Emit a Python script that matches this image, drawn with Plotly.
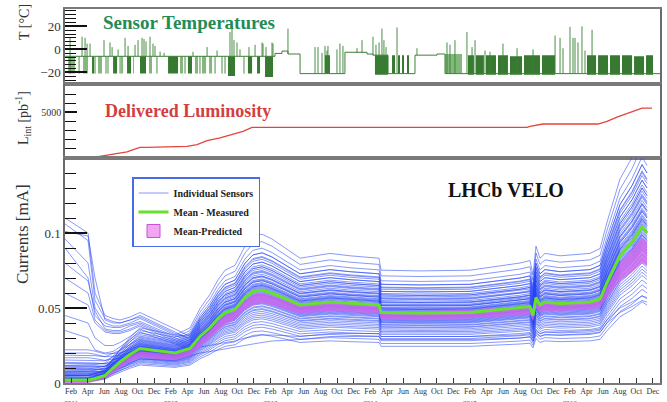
import plotly.graph_objects as go
from plotly.subplots import make_subplots

FONT = "Liberation Serif"

# ---------------- x-axis labels (decimal years) ----------------
years = [2011, 2012, 2013, 2014, 2015, 2016]
month_names = ["Feb", "Apr", "Jun", "Aug", "Oct", "Dec"]
month_numbers = [2, 4, 6, 8, 10, 12]
x_range = [2011.023, 2016.987]

# ---------------- Sensor temperatures ----------------
temp_base_x = [2011.023, 2013.128, 2013.198, 2013.258, 2013.379, 2013.829, 2014.050, 2014.110,
               2014.261, 2014.531, 2014.752, 2014.832, 2016.987]
temp_base_y = [-6, -3.5, -1.5, -4, -21, -2.5, -4, -5, -21, -5, -4, -21, -21]

# dense blocks of switching (start, end, low, high, shade)
block_x0 = [2011.054, 2011.204, 2011.294, 2011.354, 2011.505, 2011.585, 2011.645, 2011.705, 2011.775,
            2011.865, 2012.056, 2012.176, 2012.256, 2012.326, 2012.396, 2012.467, 2012.657, 2012.857,
            2012.948, 2013.028, 2013.629, 2014.130, 2014.301, 2014.361, 2014.401, 2014.451, 2014.832,
            2015.062, 2015.142, 2015.243, 2015.363, 2015.483, 2015.624, 2015.804,
            2016.255, 2016.366, 2016.486, 2016.606, 2016.727, 2016.847]
block_x1 = [2011.124, 2011.254, 2011.314, 2011.394, 2011.545, 2011.605, 2011.685, 2011.715, 2011.835,
            2011.895, 2012.156, 2012.206, 2012.296, 2012.356, 2012.437, 2012.497, 2012.727, 2012.898,
            2012.978, 2013.108, 2013.679, 2014.261, 2014.331, 2014.381, 2014.421, 2014.471, 2015.002,
            2015.122, 2015.222, 2015.343, 2015.463, 2015.604, 2015.784, 2015.935,
            2016.346, 2016.466, 2016.586, 2016.707, 2016.827, 2016.917]
block_lo = [-21, -21, -21, -21, -21, -21, -21, -21, -21, -21, -21, -21, -21, -21, -21, -21, -23, -21,
            -21, -24, -21, -22, -21, -21, -21, -21, -21,
            -22, -22, -22, -22, -22, -22, -22, -22, -22, -22, -22, -22, -22]
block_hi = [-6, -6, -6, -6, -6, -6, -6, -6, -6, -6, -6, -6, -6, -6, -6, -6, -6, -6,
            -6, -6, -5, -5, -5, -5, -5, -5, -4,
            -5, -5, -5, -5, -6, -5, -5, -5, -5, -5, -5, -6, -5]
block_light = [1, 1, 0, 1, 0, 1, 0, 1, 0, 1, 0, 1, 0, 1, 1, 1, 0, 0, 0, 0, 0, 0, 0, 0, 0, 0, 1,
               0, 0, 0, 0, 0, 0, 0, 0, 0, 0, 0, 0, 0]

# thin excursions (time, from, to)
spike_x = [2011.074, 2011.194, 2011.224, 2011.244, 2011.274, 2011.414, 2011.474, 2011.495, 2011.555,
           2011.625, 2011.655, 2011.725, 2011.755, 2011.795, 2011.815, 2011.835, 2011.875, 2011.905,
           2011.925, 2011.976, 2012.016, 2012.306, 2012.447, 2012.547, 2012.677, 2012.697, 2012.717,
           2012.747, 2012.777, 2012.867, 2012.928, 2012.998, 2013.008, 2013.038, 2013.098, 2013.108,
           2013.258,
           2011.164, 2011.324, 2011.434, 2011.454, 2011.575, 2011.945, 2012.226, 2012.376, 2012.527,
           2012.597, 2012.627, 2012.817,
           2013.529, 2013.559, 2013.599, 2013.629, 2013.649, 2013.659, 2013.749, 2013.779, 2013.809,
           2013.950, 2014.000,
           2014.110, 2014.140, 2014.171, 2014.200, 2014.220, 2014.241, 2014.351, 2014.551, 2014.852,
           2014.882, 2014.932, 2015.052, 2015.103, 2015.133, 2015.233, 2015.283, 2015.413, 2015.554,
           2015.714, 2015.935, 2015.985, 2016.015, 2016.085, 2016.115, 2016.135, 2016.165, 2016.205,
           2016.235, 2016.306]
spike_lo = [-21, -6, -6, -6, -6, -6, -6, -6, -6,
            -6, -6, -6, -6, -6, -6, -6, -6, -6,
            -6, -6, -6, -6, -6, -6, -6, -6, -6,
            -6, -6, -6, -6, -6, -6, -6, -6, -6,
            -4,
            -21, -21, -21, -21, -21, -21, -21, -21, -21,
            -21, -21, -21,
            -21, -21, -21, -21, -21, -21, -21, -21, -21,
            -3, -3,
            -5, -21, -21, -21, -21, -21, -21, -5, -21,
            -21, -21, -21, -21, -21, -21, -21, -21, -21,
            -21, -21, -21, -21, -21, -21, -21, -21, -21,
            -21, -21]
spike_hi = [10, 11, 10, 5, 5, 8, 6, 2, 0,
            10, 3, 4, 8, 10, 9, 7, 11, 5,
            3, -2, -3, -2, 2, -1, 15, 20, 8,
            6, 0, 2, 4, 6, 5, 2, 6, 5,
            18,
            -6, -6, -6, -6, -6, -6, -6, -6, -6,
            -6, -6, -6,
            2, 2, -3, 3, -1, 3, 0, 5, 3,
            1, 8,
            11, 4, 6, 18, 8, 2, 19, 1, 6,
            4, 8, 15, 2, 8, -1, -2, 5, 1,
            0, 12, 10, 1, 19.5, 10, 10, 6, 20,
            -1, 17]

# ---------------- Delivered luminosity ----------------
lumi_x = [2011.023, 2011.324, 2011.400, 2011.474, 2011.550, 2011.645, 2011.700, 2011.775, 2011.845,
          2012.246, 2012.346, 2012.447, 2012.577, 2012.707, 2012.807, 2012.898, 2015.654, 2015.684,
          2015.814, 2016.365, 2016.456, 2016.556, 2016.686, 2016.807, 2016.907]
lumi_y = [0, 90, 230, 380, 480, 670, 880, 1170, 1170,
          1280, 1470, 1900, 2190, 2630, 2920, 3350, 3350, 3460,
          3720, 3720, 4000, 4480, 5020, 5450, 5450]

# ---------------- Leakage currents ----------------
key_x = [2011.023, 2011.254, 2011.324, 2011.424, 2011.504, 2011.574, 2011.675, 2011.775, 2012.126,
         2012.276, 2012.376, 2012.477, 2012.557, 2012.627, 2012.727, 2012.827, 2012.907, 2012.998,
         2013.098, 2013.379, 2013.679, 2013.880, 2014.171, 2014.191, 2014.581, 2015.083, 2015.584,
         2015.684, 2015.714, 2015.744, 2015.784, 2015.834, 2015.985, 2016.285, 2016.386, 2016.456,
         2016.586, 2016.707, 2016.807, 2016.857]
mean_measured = [0.002, 0.002, 0.003, 0.005, 0.010, 0.014, 0.019, 0.023, 0.020,
                 0.023, 0.031, 0.037, 0.043, 0.047, 0.049, 0.057, 0.061, 0.062,
                 0.060, 0.052, 0.054, 0.053, 0.052, 0.047, 0.0467, 0.047, 0.050,
                 0.051, 0.045, 0.057, 0.052, 0.054, 0.053, 0.054, 0.056, 0.067,
                 0.085, 0.094, 0.104, 0.100]
pred_lo = [0.000, 0.000, 0.001, 0.003, 0.006, 0.010, 0.014, 0.017, 0.015,
           0.018, 0.024, 0.030, 0.035, 0.039, 0.042, 0.049, 0.052, 0.053,
           0.052, 0.046, 0.048, 0.047, 0.046, 0.042, 0.042, 0.043, 0.045,
           0.046, 0.041, 0.050, 0.047, 0.048, 0.048, 0.049, 0.050, 0.057,
           0.068, 0.074, 0.080, 0.078]
pred_hi = [0.002, 0.002, 0.003, 0.005, 0.009, 0.013, 0.018, 0.021, 0.019,
           0.022, 0.029, 0.035, 0.041, 0.045, 0.048, 0.055, 0.059, 0.060,
           0.058, 0.052, 0.054, 0.053, 0.052, 0.048, 0.048, 0.049, 0.051,
           0.052, 0.047, 0.056, 0.053, 0.054, 0.054, 0.055, 0.056, 0.064,
           0.080, 0.089, 0.097, 0.094]
early_weight = [1.0, 1.0, 0.9, 0.7, 0.45, 0.25, 0.1] + [0.0] * 33

sensor_factor = [0.52, 0.56, 0.60, 0.63, 0.66, 0.69, 0.71, 0.73,
                 0.75, 0.77, 0.79, 0.80, 0.82, 0.83, 0.85, 0.86,
                 0.87, 0.88, 0.89, 0.90, 0.91, 0.92, 0.93, 0.94,
                 0.95, 0.96, 0.97, 0.98, 0.99, 1.00, 1.01, 1.02,
                 1.03, 1.04, 1.05, 1.06, 1.07, 1.08, 1.10, 1.11,
                 1.12, 1.14, 1.15, 1.17, 1.19, 1.21, 1.23, 1.25,
                 1.27, 1.30, 1.33, 1.36, 1.40, 1.45, 1.52, 1.60]
sensor_early = [0, 0.002, 0, 0.004, 0, 0.006, 0, 0.003,
                0.008, 0, 0.005, 0, 0.010, 0, 0.002, 0.012,
                0, 0.004, 0, 0.007, 0, 0.015, 0, 0.003,
                0, 0.009, 0, 0.018, 0, 0.005, 0, 0.002,
                0.011, 0, 0.006, 0, 0.020, 0, 0.004, 0,
                0.008, 0, 0.013, 0, 0.003, 0, 0.007, 0,
                0.016, 0, 0.005, 0, 0.009, 0, 0.002, 0]

# sensors starting with high current in 2011 (first 9 key dates), then scaled
high_start_vals = [
    [0.110, 0.100, 0.060, 0.045, 0.043, 0.042, 0.044, 0.047, 0.036],
    [0.106, 0.095, 0.055, 0.043, 0.041, 0.040, 0.042, 0.045, 0.034],
    [0.101, 0.098, 0.070, 0.042, 0.040, 0.040, 0.042, 0.044, 0.033],
    [0.096, 0.080, 0.050, 0.040, 0.038, 0.038, 0.040, 0.043, 0.032],
    [0.090, 0.070, 0.045, 0.038, 0.037, 0.037, 0.039, 0.041, 0.031],
    [0.080, 0.068, 0.048, 0.036, 0.035, 0.035, 0.038, 0.040, 0.030],
    [0.070, 0.060, 0.042, 0.035, 0.034, 0.034, 0.036, 0.039, 0.029],
    [0.060, 0.052, 0.040, 0.034, 0.033, 0.033, 0.035, 0.038, 0.028],
    [0.045, 0.040, 0.030, 0.025, 0.025, 0.027, 0.031, 0.036, 0.027],
    [0.035, 0.030, 0.022, 0.020, 0.021, 0.024, 0.029, 0.034, 0.026],
]
high_start_factor = [1.35, 1.25, 1.30, 1.20, 1.40, 1.15, 1.10, 1.05, 1.00, 0.95]

low_sensor_vals = [
    [0.003, 0.003, 0.004, 0.005, 0.008, 0.010, 0.013, 0.016, 0.015, 0.018, 0.020, 0.021, 0.022, 0.023,
     0.024, 0.025, 0.026, 0.027, 0.028, 0.029, 0.031, 0.031, 0.031, 0.029, 0.029, 0.029, 0.030, 0.031,
     0.028, 0.033, 0.031, 0.032, 0.032, 0.033, 0.034, 0.040, 0.047, 0.051, 0.055, 0.054],
    [0.005, 0.005, 0.006, 0.008, 0.011, 0.013, 0.017, 0.020, 0.018, 0.020, 0.024, 0.025, 0.026, 0.027,
     0.028, 0.030, 0.031, 0.032, 0.032, 0.031, 0.033, 0.033, 0.033, 0.031, 0.031, 0.031, 0.032, 0.033,
     0.030, 0.035, 0.033, 0.034, 0.034, 0.035, 0.036, 0.042, 0.050, 0.054, 0.058, 0.057],
]

# ---------------- figure ----------------
fig = make_subplots(rows=3, cols=1, shared_xaxes=True, vertical_spacing=0,
                    row_heights=[75, 74, 225])

# temperature blocks
for light in (1, 0):
    bx, by = [], []
    for x0, x1, lo, hi, lt in zip(block_x0, block_x1, block_lo, block_hi, block_light):
        if lt != light:
            continue
        bx += [x0, x1, x1, x0, x0, None]
        by += [lo, lo, hi, hi, lo, None]
    fig.add_trace(go.Scatter(x=bx, y=by, mode="lines", fill="toself",
                             fillcolor="rgba(100,165,90,0.8)" if light else "rgba(38,110,32,0.92)",
                             line=dict(width=0), showlegend=False, hoverinfo="skip"), row=1, col=1)

sx, sy = [], []
for x, lo, hi in zip(spike_x, spike_lo, spike_hi):
    sx += [x, x, None]
    sy += [lo, hi, None]
fig.add_trace(go.Scatter(x=sx, y=sy, mode="lines", line=dict(color="rgba(55,130,50,0.9)", width=1),
                         showlegend=False, hoverinfo="skip"), row=1, col=1)
fig.add_trace(go.Scatter(x=temp_base_x, y=temp_base_y, mode="lines", line_shape="hv",
                         line=dict(color="#3f7f3a", width=1), showlegend=False), row=1, col=1)

# luminosity
fig.add_trace(go.Scatter(x=lumi_x, y=lumi_y, mode="lines", line=dict(color="#e5443c", width=1.3),
                         showlegend=False), row=2, col=1)

# individual sensors
blue = "rgba(35,65,245,0.6)"
first = True
for f, e in zip(sensor_factor, sensor_early):
    vals = [f * m + e * w for m, w in zip(mean_measured, early_weight)]
    fig.add_trace(go.Scatter(x=key_x, y=vals, mode="lines", line=dict(color=blue, width=0.9),
                             name="<b>Individual Sensors</b>", showlegend=first, legendrank=1,
                             hoverinfo="skip"), row=3, col=1)
    first = False
for hv, f in zip(high_start_vals, high_start_factor):
    vals = hv + [f * m for m in mean_measured[len(hv):]]
    fig.add_trace(go.Scatter(x=key_x, y=vals, mode="lines", line=dict(color=blue, width=0.9),
                             showlegend=False, hoverinfo="skip"), row=3, col=1)
for lv in low_sensor_vals:
    fig.add_trace(go.Scatter(x=key_x, y=lv, mode="lines", line=dict(color=blue, width=0.9),
                             showlegend=False, hoverinfo="skip"), row=3, col=1)

# predicted band
fig.add_trace(go.Scatter(x=key_x, y=pred_lo, mode="lines", line=dict(width=0), showlegend=False,
                         hoverinfo="skip"), row=3, col=1)
fig.add_trace(go.Scatter(x=key_x, y=pred_hi, mode="lines", line=dict(width=0), fill="tonexty",
                         fillcolor="rgba(205,100,235,0.8)", showlegend=False, hoverinfo="skip"),
              row=3, col=1)
# measured mean
fig.add_trace(go.Scatter(x=key_x, y=mean_measured, mode="lines", line=dict(color="#66e22a", width=3),
                         name="<b>Mean - Measured</b>", legendrank=2), row=3, col=1)
# legend marker for predicted band
fig.add_trace(go.Scatter(x=[None], y=[None], mode="markers", name="<b>Mean-Predicted</b>",
                         marker=dict(symbol="square", size=13, color="#f2a6f2",
                                     line=dict(color="#c555d5", width=1)),
                         legendrank=3), row=3, col=1)

# ---------------- axes ----------------
tick_vals, tick_text = [], []
for yr in years:
    for mn, mnum in zip(month_names, month_numbers):
        tick_vals.append(yr + (mnum - 1) / 12)
        tick_text.append(f"{mn}<br><span style='font-size:7px'>{yr}</span>" if mn == "Feb" else mn)

for r in (1, 2, 3):
    fig.update_xaxes(row=r, col=1, range=x_range, showline=True, mirror=True, linecolor="#7a7a7a",
                     linewidth=1.5, showgrid=False, zeroline=False, ticks="", automargin=False)
fig.update_xaxes(row=3, col=1, tickvals=tick_vals, ticktext=tick_text, ticks="inside", ticklen=5,
                 tickcolor="#333", tickangle=0, showticklabels=True,
                 tickfont=dict(family=FONT, size=8, color="#333"))

axis_common = dict(showline=True, mirror=True, linecolor="#6a6a6a", linewidth=1.5, showgrid=False,
                   zeroline=False, ticks="inside", tickcolor="#111", tickwidth=1.5, automargin=False)
fig.update_yaxes(row=1, col=1, range=[-30, 35], tickvals=[-20, 0, 20], ticktext=["\u221220", "0", "20"],
                 ticklen=22, minor=dict(dtick=10 / 3, tick0=0, ticks="inside", ticklen=11,
                                        tickcolor="#111", tickwidth=1.2),
                 tickfont=dict(family=FONT, size=13, color="#333"), **axis_common)
fig.update_yaxes(row=2, col=1, range=[0, 8100], tickvals=[5000], ticktext=["5000"], ticklen=12,
                 minor=dict(dtick=1000, tick0=0, ticks="inside", ticklen=11, tickcolor="#111",
                            tickwidth=1.2),
                 tickfont=dict(family=FONT, size=10, color="#333"), **axis_common)
fig.update_yaxes(row=3, col=1, range=[0, 0.15], tickvals=[0, 0.05, 0.1], ticktext=["0", "0.05", "0.1"],
                 ticklen=22, minor=dict(dtick=0.01, tick0=0, ticks="inside", ticklen=11,
                                        tickcolor="#111", tickwidth=1.2),
                 tickfont=dict(family=FONT, size=13, color="#333"), **axis_common)

L, R, T, B = 65, 7, 9, 19
PW, PH = 667 - L - R, 402 - T - B


def px(x):
    return (x - L) / PW


def py(y):
    return (402 - B - y) / PH


annots = [
    dict(text="<b>Sensor Temperatures</b>", x=px(189), y=py(22), font=dict(size=19, color="#238b57")),
    dict(text="<b>Delivered Luminosity</b>", x=px(188), y=py(111), font=dict(size=18, color="#d23f3f")),
    dict(text="<b>LHCb VELO</b>", x=px(506), y=py(190), font=dict(size=20, color="#111")),
    dict(text="T [\u00b0C]", x=px(24), y=py(22), textangle=-90, font=dict(size=14, color="#333")),
    dict(text="L<sub>int</sub> [pb<sup>-1</sup>]", x=px(23), y=py(118), textangle=-90,
         font=dict(size=14, color="#333")),
    dict(text="Currents [mA]", x=px(22), y=py(234), textangle=-90, font=dict(size=17, color="#333")),
]
for a in annots:
    a.update(xref="paper", yref="paper", showarrow=False, xanchor="center", yanchor="middle")
    a["font"]["family"] = FONT

fig.update_layout(
    width=667, height=402, margin=dict(l=L, r=R, t=T, b=B, autoexpand=False),
    paper_bgcolor="white", plot_bgcolor="white",
    font=dict(family=FONT),
    annotations=annots,
    showlegend=True,
    legend=dict(x=px(132), y=py(177), xanchor="left", yanchor="top", bgcolor="white",
                bordercolor="#4a6ae8", borderwidth=1.5, font=dict(family=FONT, size=10, color="#222"),
                traceorder="normal", tracegroupgap=2),
)

fig.write_html("out.html")
